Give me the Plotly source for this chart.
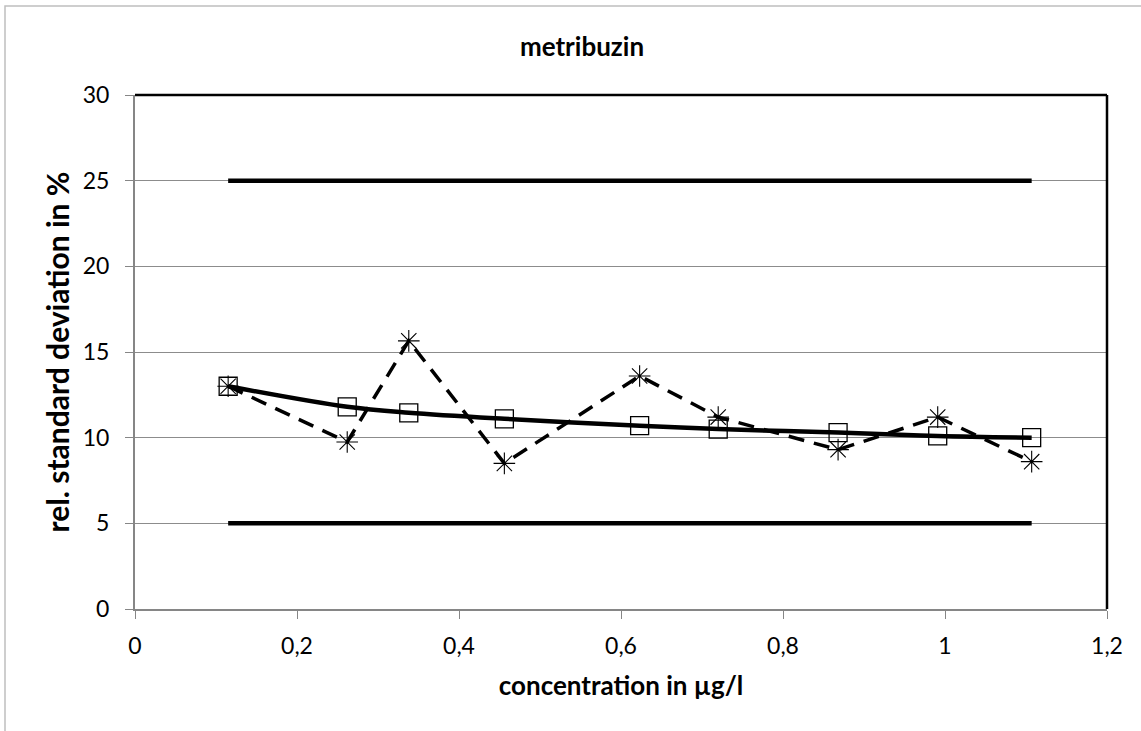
import plotly.graph_objects as go

conc = [0.115, 0.262, 0.338, 0.456, 0.623, 0.720, 0.868, 0.991, 1.107]
rsd_fit = [13.0, 11.8, 11.45, 11.1, 10.7, 10.5, 10.3, 10.1, 10.0]
rsd_meas = [13.0, 9.75, 15.65, 8.5, 13.6, 11.2, 9.3, 11.2, 8.6]
limit_x = [0.115, 1.107]
upper_limit = [25, 25]
lower_limit = [5, 5]

FONT = "Lato, 'Open Sans', sans-serif"

fig = go.Figure()
fig.add_trace(go.Scatter(x=limit_x, y=upper_limit, mode="lines",
                         line=dict(color="black", width=4.5), showlegend=False))
fig.add_trace(go.Scatter(x=limit_x, y=lower_limit, mode="lines",
                         line=dict(color="black", width=4.5), showlegend=False))
fig.add_trace(go.Scatter(x=conc, y=rsd_meas, mode="lines+markers",
                         line=dict(color="black", width=3.5, dash="16px,10px"),
                         marker=dict(symbol="asterisk-open", size=18,
                                     line=dict(color="black", width=1.1)),
                         showlegend=False))
fig.add_trace(go.Scatter(x=conc, y=rsd_fit, mode="lines+markers",
                         line=dict(color="black", width=4.5, shape="spline"),
                         marker=dict(symbol="square-open", size=18, color="black",
                                     line=dict(color="black", width=1.3)),
                         showlegend=False))

fig.update_layout(
    width=1141, height=731, autosize=False,
    margin=dict(l=135, r=34, t=95, b=122),
    paper_bgcolor="white", plot_bgcolor="white",
    font=dict(family=FONT, size=23, color="black"),
    title=dict(text="<b>metribuzin</b>", x=582/1141, xanchor="center",
               y=1 - 47/731, yanchor="middle",
               font=dict(family=FONT, size=26, color="black")),
    xaxis=dict(range=[0, 1.2], tickvals=[0, 0.2, 0.4, 0.6, 0.8, 1.0, 1.2],
               ticktext=["0", "0,2", "0,4", "0,6", "0,8", "1", "1,2"],
               showgrid=False, zeroline=False,
               showline=True, linecolor="#868686", linewidth=2,
               ticks="outside", ticklen=8, tickcolor="#868686", tickwidth=1,
               ticklabelstandoff=7,
               title=dict(text="<b>concentration in µg/l</b>",
                          font=dict(family=FONT, size=26), standoff=19)),
    yaxis=dict(range=[0, 30], tickvals=[0, 5, 10, 15, 20, 25, 30],
               showgrid=True, gridcolor="#8c8c8c", gridwidth=1,
               zeroline=False,
               showline=True, linecolor="#868686", linewidth=2,
               ticks="outside", ticklen=8, tickcolor="#868686", tickwidth=1,
               ticklabelstandoff=11,
               title=dict(text="<b>rel. standard deviation in %</b>",
                          font=dict(family=FONT, size=30), standoff=4)),
)

# top and right black border of plot area
fig.add_shape(type="line", xref="paper", yref="paper", x0=0, x1=1, y0=1, y1=1,
              line=dict(color="black", width=2.5))
fig.add_shape(type="line", xref="paper", yref="paper", x0=1, x1=1, y0=0, y1=1,
              line=dict(color="black", width=2.5))
# outer chart border (light gray)
pw, ph = 1141 - 135 - 34, 731 - 95 - 122
fig.add_shape(type="rect", xref="paper", yref="paper",
              x0=(5 - 135) / pw, x1=(1160 - 135) / pw,
              y0=(609 - 760) / ph, y1=(609 - 6) / ph,
              line=dict(color="#bfbfbf", width=1.5), layer="below")

fig.write_html("out.html", config={"displayModeBar": False},
               post_script="document.body.style.margin='0';"
                           "document.body.style.overflow='hidden';")
